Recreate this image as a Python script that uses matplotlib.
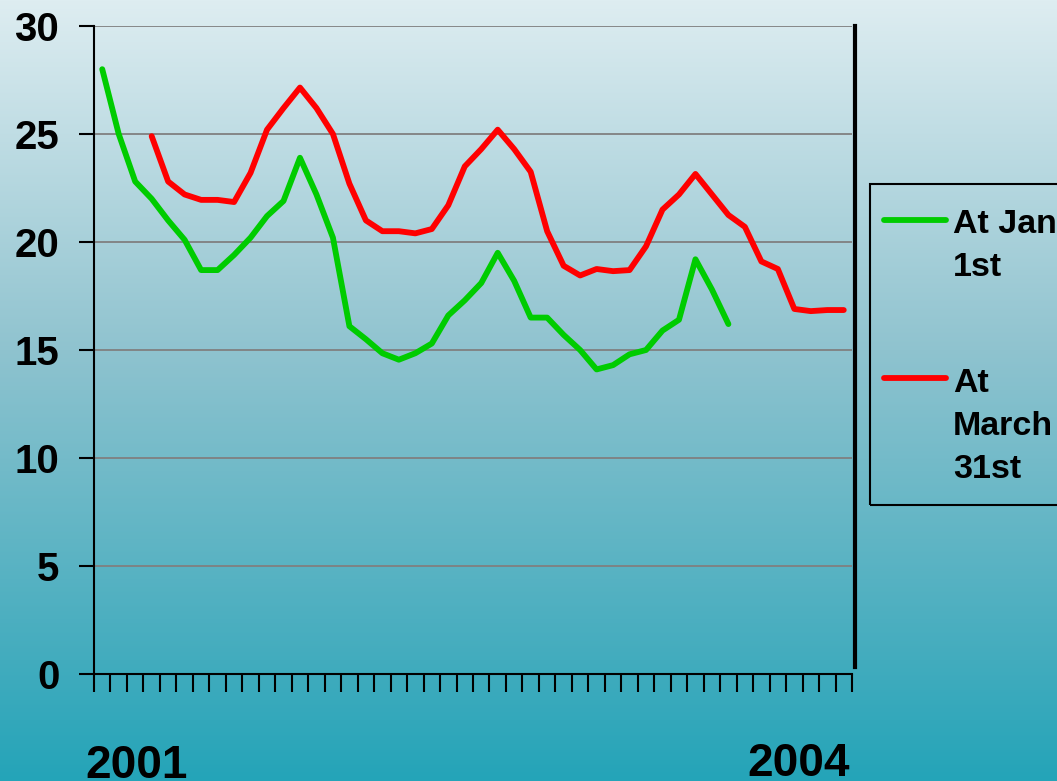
import numpy as np
import matplotlib
matplotlib.use("Agg")
import matplotlib.pyplot as plt
from matplotlib.lines import Line2D
from matplotlib.patches import Rectangle

plt.rcParams['font.family'] = ['Liberation Sans', 'DejaVu Sans']

# Monthly series, 46 periods starting January 2001
n_periods = 46
jan_first = [28.0, 25.0, 22.8, 22.0, 21.0, 20.1, 18.7, 18.7, 19.4, 20.2,
             21.2, 21.9, 23.9, 22.2, 20.2, 16.1, 15.5, 14.85, 14.55, 14.85,
             15.3, 16.6, 17.3, 18.1, 19.5, 18.2, 16.5, 16.5, 15.7, 15.0,
             14.1, 14.3, 14.8, 15.0, 15.9, 16.4, 19.2, 17.8, 16.2]
march_31st_start = 3
march_31st = [24.9, 22.8, 22.2, 21.95, 21.95, 21.85, 23.2, 25.2, 26.2, 27.15,
              26.2, 25.0, 22.7, 21.0, 20.5, 20.5, 20.4, 20.6, 21.7, 23.5,
              24.3, 25.2, 24.3, 23.25, 20.5, 18.9, 18.45, 18.75, 18.65, 18.7,
              19.8, 21.5, 22.2, 23.15, 22.2, 21.25, 20.7, 19.1, 18.75, 16.9,
              16.8, 16.85, 16.85]
series_labels = ["At Jan\n1st", "At\nMarch\n31st"]
series_colors = ["#00cc00", "#ff0000"]
y_ticks = [0, 5, 10, 15, 20, 25, 30]
year_labels = ["2001", "2004"]

W, H = 1057, 781
fig = plt.figure(figsize=(W / 100, H / 100), dpi=100)


def px(x, y):
    """Pixel position (from top-left) to figure fraction."""
    return x / W, 1 - y / H


# Vertical gradient background over the whole figure
bg = fig.add_axes([0, 0, 1, 1], zorder=-10)
stops_y = np.array([0, 350, 660, 781]) / H
stops_rgb = np.array([[222, 237, 241], [143, 195, 207], [66, 172, 190], [36, 164, 184]]) / 255
t = np.linspace(0, 1, H)
grad = np.stack([np.interp(t, stops_y, stops_rgb[:, c]) for c in range(3)], axis=-1)
bg.imshow(grad[:, None, :], aspect="auto", extent=[0, 1, 1, 0])
bg.set_axis_off()

# Main plot area
x0, y_top = px(94, 26)
x1, y_bot = px(852, 674)
ax = fig.add_axes([x0, y_bot, x1 - x0, y_top - y_bot])
ax.set_facecolor("none")

# Spine setup first (repositioning a spine resets its axis ticks)
ax.spines["top"].set_visible(False)
ax.spines["left"].set_linewidth(1.5)
ax.spines["bottom"].set_linewidth(1.5)
ax.spines["right"].set_linewidth(3)
ax.spines["right"].set_position(("outward", 2))

x_jan = np.arange(len(jan_first))
x_mar = np.arange(march_31st_start, march_31st_start + len(march_31st))
ax.plot(x_jan, jan_first, color=series_colors[0], lw=4.2,
        solid_capstyle="round", solid_joinstyle="round", zorder=3)
ax.plot(x_mar, march_31st, color=series_colors[1], lw=4.2,
        solid_capstyle="round", solid_joinstyle="round", zorder=3)

ax.set_xlim(-0.5, n_periods - 0.5)
ax.set_ylim(0, 30)
ax.spines["right"].set_bounds(0.33, 30)
ax.set_yticks(y_ticks)
ax.set_xticks(np.arange(n_periods + 1) - 0.5)
ax.set_xticklabels([])
ax.grid(axis="y", color="#808080", lw=1.3, zorder=1)
ax.set_axisbelow(True)

ax.tick_params(axis="y", length=11, width=1.5, pad=14, direction="out",
               labelsize=29, left=True, right=False)
ax.tick_params(axis="x", length=13, width=1.5, direction="out")
for lab in ax.get_yticklabels():
    lab.set_fontweight("bold")

# Year markers under the axis
fig.text(*px(85, 778), year_labels[0], fontsize=33, fontweight="bold",
         ha="left", va="baseline")
fig.text(*px(747, 776), year_labels[1], fontsize=33, fontweight="bold",
         ha="left", va="baseline")

# Legend box (extends past the right edge)
lx, ly = px(870, 505)
rx, ry = px(1075, 184)
fig.patches.append(Rectangle((lx, ly), rx - lx, ry - ly, transform=fig.transFigure,
                             facecolor="none", edgecolor="black", lw=1.5))
legend_rows = [(220, 233), (378, 392)]
for (ly_line, ly_text), label, color in zip(legend_rows, series_labels, series_colors):
    xa, ya = px(884, ly_line)
    xb, _ = px(946, ly_line)
    fig.lines.append(Line2D([xa, xb], [ya, ya], transform=fig.transFigure,
                            color=color, lw=4.2, solid_capstyle="round"))
    for k, part in enumerate(label.split("\n")):
        fig.text(*px(953, ly_text + 43 * k), part, fontsize=24.5, fontweight="bold",
                 ha="left", va="baseline")

fig.savefig("out.png", dpi=100)
